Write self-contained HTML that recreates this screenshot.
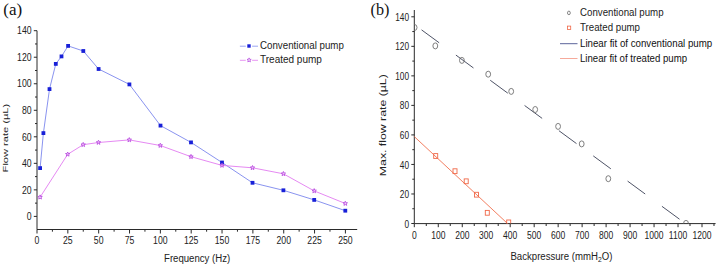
<!DOCTYPE html>
<html><head><meta charset="utf-8"><style>
html,body{margin:0;padding:0;background:#fff;width:720px;height:267px;overflow:hidden}
svg{display:block}
text{font-family:"Liberation Sans",sans-serif}
</style></head><body>
<svg width="720" height="267" viewBox="0 0 720 267">
<rect width="720" height="267" fill="#fff"/>
<path d="M37.0 30.7V229.5H357.2" fill="none" stroke="#2a2a2a" stroke-width="1"/>
<path d="M33.80 216.40H37.0M35.00 203.14H37.0M33.80 189.87H37.0M35.00 176.61H37.0M33.80 163.34H37.0M35.00 150.08H37.0M33.80 136.81H37.0M35.00 123.55H37.0M33.80 110.29H37.0M35.00 97.02H37.0M33.80 83.76H37.0M35.00 70.49H37.0M33.80 57.23H37.0M35.00 43.96H37.0M33.80 30.70H37.0M37.00 229.5V233.50M52.42 229.5V231.70M67.84 229.5V233.50M83.26 229.5V231.70M98.68 229.5V233.50M114.10 229.5V231.70M129.52 229.5V233.50M144.94 229.5V231.70M160.36 229.5V233.50M175.78 229.5V231.70M191.20 229.5V233.50M206.62 229.5V231.70M222.04 229.5V233.50M237.46 229.5V231.70M252.88 229.5V233.50M268.30 229.5V231.70M283.72 229.5V233.50M299.14 229.5V231.70M314.56 229.5V233.50M329.98 229.5V231.70M345.40 229.5V233.50" fill="none" stroke="#2a2a2a" stroke-width="1"/>
<text transform="translate(31.60,220.10) scale(0.87,1)" text-anchor="end" font-size="10" fill="#222">0</text>
<text transform="translate(31.60,193.57) scale(0.87,1)" text-anchor="end" font-size="10" fill="#222">20</text>
<text transform="translate(31.60,167.04) scale(0.87,1)" text-anchor="end" font-size="10" fill="#222">40</text>
<text transform="translate(31.60,140.51) scale(0.87,1)" text-anchor="end" font-size="10" fill="#222">60</text>
<text transform="translate(31.60,113.99) scale(0.87,1)" text-anchor="end" font-size="10" fill="#222">80</text>
<text transform="translate(31.60,87.46) scale(0.87,1)" text-anchor="end" font-size="10" fill="#222">100</text>
<text transform="translate(31.60,60.93) scale(0.87,1)" text-anchor="end" font-size="10" fill="#222">120</text>
<text transform="translate(31.60,34.40) scale(0.87,1)" text-anchor="end" font-size="10" fill="#222">140</text>
<text transform="translate(37.00,244.40) scale(0.87,1)" text-anchor="middle" font-size="10" fill="#222">0</text>
<text transform="translate(67.84,244.40) scale(0.87,1)" text-anchor="middle" font-size="10" fill="#222">25</text>
<text transform="translate(98.68,244.40) scale(0.87,1)" text-anchor="middle" font-size="10" fill="#222">50</text>
<text transform="translate(129.52,244.40) scale(0.87,1)" text-anchor="middle" font-size="10" fill="#222">75</text>
<text transform="translate(160.36,244.40) scale(0.87,1)" text-anchor="middle" font-size="10" fill="#222">100</text>
<text transform="translate(191.20,244.40) scale(0.87,1)" text-anchor="middle" font-size="10" fill="#222">125</text>
<text transform="translate(222.04,244.40) scale(0.87,1)" text-anchor="middle" font-size="10" fill="#222">150</text>
<text transform="translate(252.88,244.40) scale(0.87,1)" text-anchor="middle" font-size="10" fill="#222">175</text>
<text transform="translate(283.72,244.40) scale(0.87,1)" text-anchor="middle" font-size="10" fill="#222">200</text>
<text transform="translate(314.56,244.40) scale(0.87,1)" text-anchor="middle" font-size="10" fill="#222">225</text>
<text transform="translate(345.40,244.40) scale(0.87,1)" text-anchor="middle" font-size="10" fill="#222">250</text>
<polyline fill="none" stroke="#7480ec" stroke-width="0.85" points="40.1,168.1 43.4,133.1 49.5,89.1 55.8,63.9 61.5,56.4 68.1,45.9 83.3,51.0 98.6,69.0 129.4,84.4 160.5,125.6 191,142.4 222,162.5 252.5,182.8 283.4,190.3 314.2,199.9 345.3,210.7"/>
<polyline fill="none" stroke="#e27cf0" stroke-width="0.9" points="40.1,197.2 67.7,154.3 83.2,144.7 98.5,142.5 129.3,139.9 160.3,145.5 191,156.7 222,165.4 252.5,167.8 283.4,173.8 314.2,190.9 345.3,203.5"/>
<rect x="38.20" y="166.20" width="3.8" height="3.8" fill="#1820d8"/>
<rect x="41.50" y="131.20" width="3.8" height="3.8" fill="#1820d8"/>
<rect x="47.60" y="87.20" width="3.8" height="3.8" fill="#1820d8"/>
<rect x="53.90" y="62.00" width="3.8" height="3.8" fill="#1820d8"/>
<rect x="59.60" y="54.50" width="3.8" height="3.8" fill="#1820d8"/>
<rect x="66.20" y="44.00" width="3.8" height="3.8" fill="#1820d8"/>
<rect x="81.40" y="49.10" width="3.8" height="3.8" fill="#1820d8"/>
<rect x="96.70" y="67.10" width="3.8" height="3.8" fill="#1820d8"/>
<rect x="127.50" y="82.50" width="3.8" height="3.8" fill="#1820d8"/>
<rect x="158.60" y="123.70" width="3.8" height="3.8" fill="#1820d8"/>
<rect x="189.10" y="140.50" width="3.8" height="3.8" fill="#1820d8"/>
<rect x="220.10" y="160.60" width="3.8" height="3.8" fill="#1820d8"/>
<rect x="250.60" y="180.90" width="3.8" height="3.8" fill="#1820d8"/>
<rect x="281.50" y="188.40" width="3.8" height="3.8" fill="#1820d8"/>
<rect x="312.30" y="198.00" width="3.8" height="3.8" fill="#1820d8"/>
<rect x="343.40" y="208.80" width="3.8" height="3.8" fill="#1820d8"/>
<polygon points="40.10,194.90 40.69,196.39 42.29,196.49 41.05,197.51 41.45,199.06 40.10,198.20 38.75,199.06 39.15,197.51 37.91,196.49 39.51,196.39" fill="none" stroke="#b94ee0" stroke-width="0.9"/>
<polygon points="67.70,152.00 68.29,153.49 69.89,153.59 68.65,154.61 69.05,156.16 67.70,155.30 66.35,156.16 66.75,154.61 65.51,153.59 67.11,153.49" fill="none" stroke="#b94ee0" stroke-width="0.9"/>
<polygon points="83.20,142.40 83.79,143.89 85.39,143.99 84.15,145.01 84.55,146.56 83.20,145.70 81.85,146.56 82.25,145.01 81.01,143.99 82.61,143.89" fill="none" stroke="#b94ee0" stroke-width="0.9"/>
<polygon points="98.50,140.20 99.09,141.69 100.69,141.79 99.45,142.81 99.85,144.36 98.50,143.50 97.15,144.36 97.55,142.81 96.31,141.79 97.91,141.69" fill="none" stroke="#b94ee0" stroke-width="0.9"/>
<polygon points="129.30,137.60 129.89,139.09 131.49,139.19 130.25,140.21 130.65,141.76 129.30,140.90 127.95,141.76 128.35,140.21 127.11,139.19 128.71,139.09" fill="none" stroke="#b94ee0" stroke-width="0.9"/>
<polygon points="160.30,143.20 160.89,144.69 162.49,144.79 161.25,145.81 161.65,147.36 160.30,146.50 158.95,147.36 159.35,145.81 158.11,144.79 159.71,144.69" fill="none" stroke="#b94ee0" stroke-width="0.9"/>
<polygon points="191.00,154.40 191.59,155.89 193.19,155.99 191.95,157.01 192.35,158.56 191.00,157.70 189.65,158.56 190.05,157.01 188.81,155.99 190.41,155.89" fill="none" stroke="#b94ee0" stroke-width="0.9"/>
<polygon points="222.00,163.10 222.59,164.59 224.19,164.69 222.95,165.71 223.35,167.26 222.00,166.40 220.65,167.26 221.05,165.71 219.81,164.69 221.41,164.59" fill="none" stroke="#b94ee0" stroke-width="0.9"/>
<polygon points="252.50,165.50 253.09,166.99 254.69,167.09 253.45,168.11 253.85,169.66 252.50,168.80 251.15,169.66 251.55,168.11 250.31,167.09 251.91,166.99" fill="none" stroke="#b94ee0" stroke-width="0.9"/>
<polygon points="283.40,171.50 283.99,172.99 285.59,173.09 284.35,174.11 284.75,175.66 283.40,174.80 282.05,175.66 282.45,174.11 281.21,173.09 282.81,172.99" fill="none" stroke="#b94ee0" stroke-width="0.9"/>
<polygon points="314.20,188.60 314.79,190.09 316.39,190.19 315.15,191.21 315.55,192.76 314.20,191.90 312.85,192.76 313.25,191.21 312.01,190.19 313.61,190.09" fill="none" stroke="#b94ee0" stroke-width="0.9"/>
<polygon points="345.30,201.20 345.89,202.69 347.49,202.79 346.25,203.81 346.65,205.36 345.30,204.50 343.95,205.36 344.35,203.81 343.11,202.79 344.71,202.69" fill="none" stroke="#b94ee0" stroke-width="0.9"/>
<path d="M239.9 46.2H245.8M252.1 46.2H258" stroke="#8e9cf0" stroke-width="0.9"/>
<rect x="247.3" y="44.3" width="3.4" height="3.4" fill="#1820d8"/>
<path d="M239.9 60.3H245.8M252.1 60.3H258" stroke="#e58af2" stroke-width="0.9"/>
<polygon points="249.10,57.90 249.66,59.33 251.19,59.42 250.00,60.39 250.39,61.88 249.10,61.05 247.81,61.88 248.20,60.39 247.01,59.42 248.54,59.33" fill="none" stroke="#b94ee0" stroke-width="0.8"/>
<text transform="translate(260.00,48.80) scale(0.975,1)" text-anchor="start" font-size="10" fill="#222">Conventional pump</text>
<text transform="translate(260.00,63.00) scale(1.0,1)" text-anchor="start" font-size="10" fill="#222">Treated pump</text>
<text transform="translate(197.10,262.00) scale(0.962,1)" text-anchor="middle" font-size="10" fill="#222">Frequency (Hz)</text>
<text transform="translate(7.6,138.1) rotate(-90) scale(1.0,0.72)" font-size="11.1" text-anchor="middle" fill="#222">Flow rate (µL)</text>
<text x="3.3" y="14.6" style="font-family:Liberation Serif,serif" font-size="17" fill="#111">(a)</text>
<path d="M414.3 10.0V223.6H715.6" fill="none" stroke="#2a2a2a" stroke-width="1"/>
<path d="M411.30 223.50H414.3M412.30 208.74H414.3M411.30 193.97H414.3M412.30 179.21H414.3M411.30 164.44H414.3M412.30 149.68H414.3M411.30 134.91H414.3M412.30 120.15H414.3M411.30 105.39H414.3M412.30 90.62H414.3M411.30 75.86H414.3M412.30 61.09H414.3M411.30 46.33H414.3M412.30 31.56H414.3M411.30 16.80H414.3M414.30 223.6V227.20M426.29 223.6V226.00M438.28 223.6V227.20M450.26 223.6V226.00M462.25 223.6V227.20M474.24 223.6V226.00M486.23 223.6V227.20M498.21 223.6V226.00M510.20 223.6V227.20M522.19 223.6V226.00M534.18 223.6V227.20M546.16 223.6V226.00M558.15 223.6V227.20M570.14 223.6V226.00M582.12 223.6V227.20M594.11 223.6V226.00M606.10 223.6V227.20M618.09 223.6V226.00M630.08 223.6V227.20M642.06 223.6V226.00M654.05 223.6V227.20M666.04 223.6V226.00M678.03 223.6V227.20M690.01 223.6V226.00M702.00 223.6V227.20M713.99 223.6V226.00" fill="none" stroke="#2a2a2a" stroke-width="1"/>
<text transform="translate(409.00,227.60) scale(0.83,1)" text-anchor="end" font-size="10" fill="#222">0</text>
<text transform="translate(409.00,198.07) scale(0.83,1)" text-anchor="end" font-size="10" fill="#222">20</text>
<text transform="translate(409.00,168.54) scale(0.83,1)" text-anchor="end" font-size="10" fill="#222">40</text>
<text transform="translate(409.00,139.01) scale(0.83,1)" text-anchor="end" font-size="10" fill="#222">60</text>
<text transform="translate(409.00,109.49) scale(0.83,1)" text-anchor="end" font-size="10" fill="#222">80</text>
<text transform="translate(409.00,79.96) scale(0.83,1)" text-anchor="end" font-size="10" fill="#222">100</text>
<text transform="translate(409.00,50.43) scale(0.83,1)" text-anchor="end" font-size="10" fill="#222">120</text>
<text transform="translate(409.00,20.90) scale(0.83,1)" text-anchor="end" font-size="10" fill="#222">140</text>
<text transform="translate(414.30,239.30) scale(0.855,1)" text-anchor="middle" font-size="10" fill="#222">0</text>
<text transform="translate(438.28,239.30) scale(0.855,1)" text-anchor="middle" font-size="10" fill="#222">100</text>
<text transform="translate(462.25,239.30) scale(0.855,1)" text-anchor="middle" font-size="10" fill="#222">200</text>
<text transform="translate(486.23,239.30) scale(0.855,1)" text-anchor="middle" font-size="10" fill="#222">300</text>
<text transform="translate(510.20,239.30) scale(0.855,1)" text-anchor="middle" font-size="10" fill="#222">400</text>
<text transform="translate(534.18,239.30) scale(0.855,1)" text-anchor="middle" font-size="10" fill="#222">500</text>
<text transform="translate(558.15,239.30) scale(0.855,1)" text-anchor="middle" font-size="10" fill="#222">600</text>
<text transform="translate(582.12,239.30) scale(0.855,1)" text-anchor="middle" font-size="10" fill="#222">700</text>
<text transform="translate(606.10,239.30) scale(0.855,1)" text-anchor="middle" font-size="10" fill="#222">800</text>
<text transform="translate(630.08,239.30) scale(0.855,1)" text-anchor="middle" font-size="10" fill="#222">900</text>
<text transform="translate(654.05,239.30) scale(0.855,1)" text-anchor="middle" font-size="10" fill="#222">1000</text>
<text transform="translate(678.03,239.30) scale(0.855,1)" text-anchor="middle" font-size="10" fill="#222">1100</text>
<text transform="translate(702.00,239.30) scale(0.855,1)" text-anchor="middle" font-size="10" fill="#222">1200</text>
<line x1="414.3" y1="24.54" x2="685.50" y2="223.6" stroke="#3a3f55" stroke-width="0.9" stroke-dasharray="21.8 20.8" stroke-dashoffset="33.6"/>
<line x1="414.3" y1="136.6" x2="507.6" y2="223.6" stroke="#f0704f" stroke-width="0.9"/>
<clipPath id="cb"><rect x="414.3" y="0" width="301.3" height="223.6"/></clipPath>
<g clip-path="url(#cb)">
<ellipse cx="414.6" cy="27.5" rx="2.4" ry="3.0" fill="none" stroke="#707070" stroke-width="0.9"/>
<ellipse cx="435.3" cy="45.9" rx="2.4" ry="3.0" fill="none" stroke="#707070" stroke-width="0.9"/>
<ellipse cx="461.9" cy="60.4" rx="2.4" ry="3.0" fill="none" stroke="#707070" stroke-width="0.9"/>
<ellipse cx="488.2" cy="74.2" rx="2.4" ry="3.0" fill="none" stroke="#707070" stroke-width="0.9"/>
<ellipse cx="511.2" cy="91.4" rx="2.4" ry="3.0" fill="none" stroke="#707070" stroke-width="0.9"/>
<ellipse cx="535.2" cy="109.5" rx="2.4" ry="3.0" fill="none" stroke="#707070" stroke-width="0.9"/>
<ellipse cx="558.1" cy="126.4" rx="2.4" ry="3.0" fill="none" stroke="#707070" stroke-width="0.9"/>
<ellipse cx="581.7" cy="143.9" rx="2.4" ry="3.0" fill="none" stroke="#707070" stroke-width="0.9"/>
<ellipse cx="608.3" cy="178.7" rx="2.4" ry="3.0" fill="none" stroke="#707070" stroke-width="0.9"/>
<ellipse cx="686.0" cy="223.4" rx="2.4" ry="3.0" fill="none" stroke="#707070" stroke-width="0.9"/>
<rect x="433.70" y="153.60" width="4" height="4.8" fill="none" stroke="#f06848" stroke-width="0.9"/>
<rect x="453.00" y="168.80" width="4" height="4.8" fill="none" stroke="#f06848" stroke-width="0.9"/>
<rect x="464.20" y="178.90" width="4" height="4.8" fill="none" stroke="#f06848" stroke-width="0.9"/>
<rect x="474.50" y="192.30" width="4" height="4.8" fill="none" stroke="#f06848" stroke-width="0.9"/>
<rect x="485.30" y="210.40" width="4" height="4.8" fill="none" stroke="#f06848" stroke-width="0.9"/>
<rect x="506.70" y="220.00" width="4" height="4.8" fill="none" stroke="#f06848" stroke-width="0.9"/>
</g>
<ellipse cx="568.9" cy="12.9" rx="1.4" ry="1.8" fill="none" stroke="#666" stroke-width="0.8"/>
<rect x="567.5" y="26.1" width="3.2" height="3.4" fill="none" stroke="#f06848" stroke-width="0.8"/>
<line x1="560" y1="43.7" x2="577.5" y2="43.7" stroke="#4a5290" stroke-width="0.9"/>
<line x1="560" y1="58.5" x2="577.5" y2="58.5" stroke="#f5a090" stroke-width="0.9"/>
<text transform="translate(580.00,15.50) scale(0.97,1)" text-anchor="start" font-size="10" fill="#222">Conventional pump</text>
<text transform="translate(580.00,30.50) scale(0.97,1)" text-anchor="start" font-size="10" fill="#222">Treated pump</text>
<text transform="translate(580.00,46.90) scale(0.972,1)" text-anchor="start" font-size="10" fill="#111">Linear fit of conventional pump</text>
<text transform="translate(580.00,61.70) scale(0.964,1)" text-anchor="start" font-size="10" fill="#111">Linear fit of treated pump</text>
<text transform="translate(561.40,259.60) scale(0.96,1)" text-anchor="middle" font-size="10" fill="#222">Backpressure (mmH<tspan font-size="7" dy="2.5">2</tspan><tspan dy="-2.5">O)</tspan></text>
<text transform="translate(386.0,125.2) rotate(-90) scale(1.0,0.72)" font-size="12.3" text-anchor="middle" fill="#222">Max. flow rate (µL)</text>
<text transform="translate(370.6,14.7) scale(0.95,1)" style="font-family:Liberation Serif,serif" font-size="17" fill="#111">(b)</text>
</svg>
</body></html>
